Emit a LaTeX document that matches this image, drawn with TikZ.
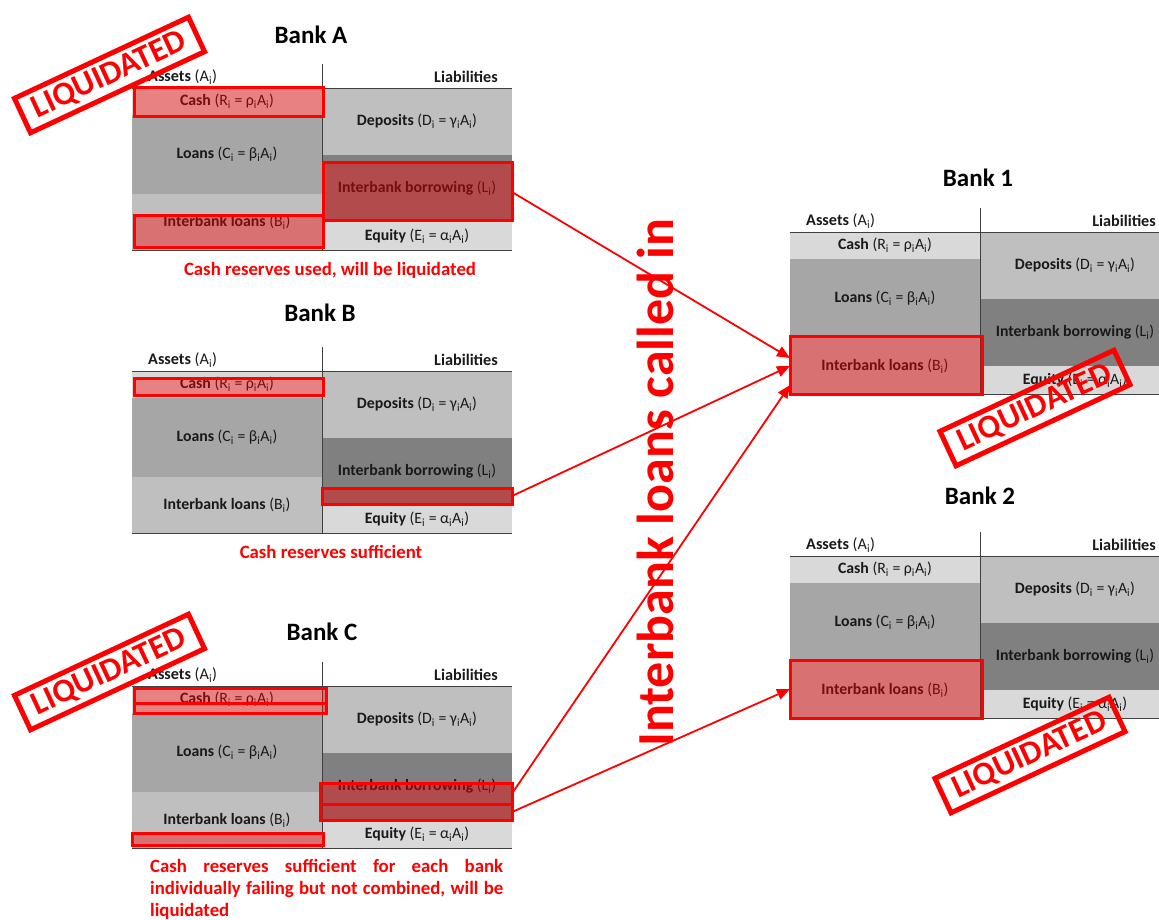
\documentclass[tikz,border=0pt]{standalone}
\usepackage{fontspec}
\setmainfont{Carlito}
\usetikzlibrary{arrows.meta,fit}

\definecolor{lightgray}{HTML}{D9D9D9}
\definecolor{midgray}{HTML}{BFBFBF}
\definecolor{loangray}{HTML}{A6A6A6}
\definecolor{darkgray}{HTML}{808080}
\definecolor{rulegray}{HTML}{404040}

\newcommand{\sbi}{\textsubscript{i}}

\tikzset{
  cell/.style={rectangle, anchor=north west, minimum width=190pt, inner sep=0pt, outer sep=0pt,
    text=black!90, font=\fontsize{15.8}{18}\selectfont},
  rule/.style={rulegray, line width=0.8pt},
  head/.style={inner sep=0pt, text=black!90, font=\fontsize{16.2}{18}\selectfont},
  title/.style={font=\bfseries\fontsize{25}{28}\selectfont},
  note/.style={inner sep=0pt, text=red, font=\bfseries\fontsize{18.8}{22}\selectfont},
  hit/.style={draw=red, line width=3pt, fill=red, fill opacity=0.4, inner sep=0pt, outer sep=0pt},
  stamp/.style={draw=red, line width=5pt, text=red, inner sep=0pt, minimum width=192pt,
    minimum height=38pt, rotate=25, font=\bfseries\fontsize{33}{33}\selectfont},
  callin/.style={red, line width=1.8pt, -{Triangle[length=13pt,width=11pt]}}
}

% #1 name, #2 left x, #3 top y
\newcommand{\balancesheet}[3]{%
  \node[cell, fill=lightgray, minimum height=27pt] (#1-cash) at (#2,#3) {\textbf{Cash} (R\sbi{} = ρ\sbi A\sbi)};
  \node[cell, fill=loangray, minimum height=79pt] (#1-loans) at (#2,#3+27) {\textbf{Loans} (C\sbi{} = β\sbi A\sbi)};
  \node[cell, fill=midgray, minimum height=56pt] (#1-ib) at (#2,#3+106) {\textbf{Interbank loans} (B\sbi)};
  \node[cell, fill=midgray, minimum height=67pt] (#1-dep) at (#2+190,#3) {\textbf{Deposits} (D\sbi{} = γ\sbi A\sbi)};
  \node[cell, fill=darkgray, minimum height=67pt] (#1-borrow) at (#2+190,#3+67) {\textbf{Interbank borrowing} (L\sbi)};
  \node[cell, fill=lightgray, minimum height=28pt] (#1-eq) at (#2+190,#3+134) {\textbf{Equity} (E\sbi{} = α\sbi A\sbi)};
  \draw[rule] (#2,#3) -- (#2+380,#3);
  \draw[rule] (#2,#3+162) -- (#2+380,#3+162);
  \draw[rule] (#2+190,#3-24) -- (#2+190,#3+162);
  \node[head, anchor=west] (#1-assets) at (#2+16,#3-11) {\textbf{Assets} (A\sbi)};
  \node[head, anchor=east] (#1-liab) at (#2+366,#3-11) {\textbf{Liabilities}};
}

\begin{document}
\begin{tikzpicture}[x=1pt,y=-1pt]
\useasboundingbox (0,0) rectangle (1159,920);

% balance sheets
\balancesheet{A}{132}{88}
\balancesheet{B}{132}{371}
\balancesheet{C}{132}{686}
\balancesheet{one}{790}{232}
\balancesheet{two}{790}{556}

\node[title] (titleA) at (311,35) {Bank A};
\node[title] (titleB) at (320,313) {Bank B};
\node[title] (titleC) at (322,632) {Bank C};
\node[title] (titleone) at (978,178) {Bank 1};
\node[title] (titletwo) at (980,496) {Bank 2};

% affected items
\node[hit, fit={(134,88) (323,117)}] (A-cashhit) {};
\node[hit, fit={(134,216) (323,247)}] (A-ibhit) {};
\node[hit, fit={(323,163) (512,221)}] (A-borrowhit) {};
\node[hit, fit={(134,378) (323,395)}] (B-cashhit) {};
\node[hit, fit={(322,488) (512,504)}] (B-borrowhit) {};
\node[hit, fit={(134,688) (326,703)}] (C-cashhit) {};
\node[hit, fit={(134,703) (326,713)}] (C-cashhitb) {};
\node[hit, fit={(132,833) (323,845)}] (C-ibhit) {};
\node[hit, fit={(320,783) (512,804)}] (C-borrowhit) {};
\node[hit, fit={(320,804) (512,820)}] (C-borrowhitb) {};
\node[hit, fit={(790,336) (982,394)}] (one-ibhit) {};
\node[hit, fit={(790,660) (982,718)}] (two-ibhit) {};

% captions
\node[note] (capA) at (330,270) {Cash reserves used, will be liquidated};
\node[note] (capB) at (331,552) {Cash reserves sufficient};
\node[note, anchor=base west] (capC1) at (150,872) {\makebox[353pt][s]{Cash reserves sufficient for each bank}};
\node[note, anchor=base west] (capC2) at (150,894) {\makebox[353pt][s]{individually failing but not combined, will be}};
\node[note, anchor=base west] (capC3) at (150,916) {liquidated};

% calls
\draw[callin] (A-borrowhit.east) -- ([yshift=7pt]one-ibhit.west);
\draw[callin] (B-borrowhit.east) -- ([yshift=-1pt]one-ibhit.west);
\draw[callin] (C-borrowhit.east) -- ([yshift=-20pt]one-ibhit.west);
\draw[callin] (C-borrowhitb.east) -- (two-ibhit.west);

\node[rotate=90, text=red, font=\bfseries\fontsize{52}{52}\selectfont] (calledin) at (655,483) {Interbank loans called in};

% stamps
\node[stamp] (stampA) at (109.5,75) {LIQUIDATED};
\node[stamp] (stampC) at (109.5,672) {LIQUIDATED};
\node[stamp] (stampone) at (1035,408) {LIQUIDATED};
\node[stamp] (stamptwo) at (1030,755) {LIQUIDATED};
\end{tikzpicture}
\end{document}
